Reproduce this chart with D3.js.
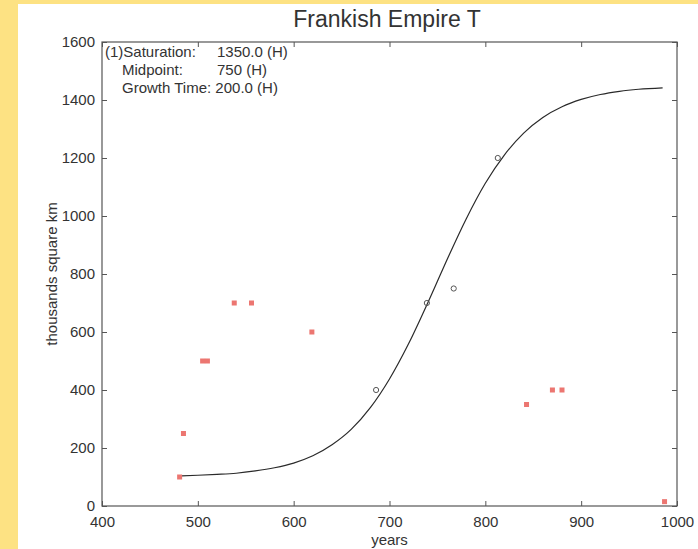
<!DOCTYPE html>
<html>
<head>
<meta charset="utf-8">
<script src="https://cdn.jsdelivr.net/npm/d3@7"></script>
<style>
  html, body { margin: 0; padding: 0; background: #fde283; }
  svg { display: block; }
  text { font-family: "Liberation Sans", Arial, Helvetica, sans-serif; fill: #333; }
</style>
</head>
<body>
<svg id="chart" width="698" height="549"></svg>
<script>
// ---- data ----
const xTicks = [400, 500, 600, 700, 800, 900, 1000];
const yTicks = [0, 200, 400, 600, 800, 1000, 1200, 1400, 1600];

// red square markers
const squareYears  = [481, 485, 505, 510, 538, 556, 619, 843, 870, 880, 987];
const squareValues = [100, 250, 500, 500, 700, 700, 600, 350, 400, 400, 15];

// open circle markers
const circleYears  = [686, 739, 767, 813];
const circleValues = [400, 700, 750, 1200];

// fitted curve
const curveYears  = [483, 500, 520, 540, 560, 580, 600, 620, 640, 660, 680, 700, 720, 740, 750, 760, 780, 800, 820, 840, 860, 880, 900, 920, 940, 960, 985];
const curveValues = [104, 106, 109, 113, 121, 132, 148, 173, 211, 264, 339, 438, 560, 701, 775, 849, 990, 1113, 1211, 1286, 1340, 1377, 1402, 1419, 1430, 1437, 1442];

const titleText = "Frankish Empire T";
const xLabel = "years";
const yLabel = "thousands square km";
const annoLabels = ["(1)Saturation:", "Midpoint:", "Growth Time: 200.0 (H)"];
const annoValues = ["1350.0 (H)", "750 (H)", ""];

// ---- drawing ----
const svg = d3.select("#chart");
const W = 698, H = 549;

// white panel over yellow background
svg.append("rect").attr("x", 18).attr("y", 4).attr("width", W - 18).attr("height", H - 4).attr("fill", "#ffffff");

const x = d3.scaleLinear().domain([400, 1000]).range([102, 677]);
const y = d3.scaleLinear().domain([0, 1600]).range([506, 42]);

const axisColor = "#555";

function styleAxis(g) {
  g.select(".domain").remove();
  g.selectAll(".tick line").attr("stroke", axisColor).attr("stroke-width", 1);
  g.selectAll(".tick text").attr("fill", "#333").style("font-size", "15px")
    .style("font-family", '"Liberation Sans", Arial, sans-serif');
}

svg.append("g").attr("transform", `translate(0,${y(0)})`)
  .call(d3.axisBottom(x).tickValues(xTicks).tickFormat(d3.format("d")).tickSizeInner(-5).tickSizeOuter(0).tickPadding(10))
  .call(styleAxis);
svg.append("g").attr("transform", `translate(0,${y(1600)})`)
  .call(d3.axisTop(x).tickValues(xTicks).tickFormat("").tickSizeInner(-5).tickSizeOuter(0))
  .call(styleAxis);
svg.append("g").attr("transform", `translate(${x(400)},0)`)
  .call(d3.axisLeft(y).tickValues(yTicks).tickFormat(d3.format("d")).tickSizeInner(-5).tickSizeOuter(0).tickPadding(7))
  .call(styleAxis);
svg.append("g").attr("transform", `translate(${x(1000)},0)`)
  .call(d3.axisRight(y).tickValues(yTicks).tickFormat("").tickSizeInner(-5).tickSizeOuter(0))
  .call(styleAxis);

// plot box
svg.append("rect")
  .attr("x", x(400)).attr("y", y(1600))
  .attr("width", x(1000) - x(400)).attr("height", y(0) - y(1600))
  .attr("fill", "none").attr("stroke", axisColor).attr("stroke-width", 1.2);

// curve
const curveData = curveYears.map((t, i) => [t, curveValues[i]]);
svg.append("path")
  .datum(curveData)
  .attr("fill", "none").attr("stroke", "#2a2a2a").attr("stroke-width", 1.2)
  .attr("d", d3.line().x(d => x(d[0])).y(d => y(d[1])).curve(d3.curveMonotoneX));

// red squares
const sq = 5;
svg.append("g").selectAll("rect")
  .data(squareYears.map((t, i) => [t, squareValues[i]]))
  .join("rect")
  .attr("x", d => x(d[0]) - sq / 2).attr("y", d => y(d[1]) - sq / 2)
  .attr("width", sq).attr("height", sq)
  .attr("fill", "#ec7671");

// open circles
svg.append("g").selectAll("circle")
  .data(circleYears.map((t, i) => [t, circleValues[i]]))
  .join("circle")
  .attr("cx", d => x(d[0])).attr("cy", d => y(d[1])).attr("r", 2.6)
  .attr("fill", "none").attr("stroke", "#555").attr("stroke-width", 1);

// annotation
const annoX = [105, 122, 122];
const annoY = [57, 75, 93];
annoLabels.forEach((s, i) => {
  svg.append("text").attr("x", annoX[i]).attr("y", annoY[i]).style("font-size", "15px").text(s);
  if (annoValues[i]) svg.append("text").attr("x", 217).attr("y", annoY[i]).style("font-size", "15px").text(annoValues[i]);
});

// title and axis labels
svg.append("text").attr("x", 387).attr("y", 27).attr("text-anchor", "middle")
  .style("font-size", "23px").text(titleText);
svg.append("text").attr("x", (x(400) + x(1000)) / 2).attr("y", 545).attr("text-anchor", "middle")
  .style("font-size", "15px").text(xLabel);
svg.append("text").attr("transform", `translate(57,${(y(0) + y(1600)) / 2}) rotate(-90)`)
  .attr("text-anchor", "middle").style("font-size", "15px").text(yLabel);
</script>
</body>
</html>
